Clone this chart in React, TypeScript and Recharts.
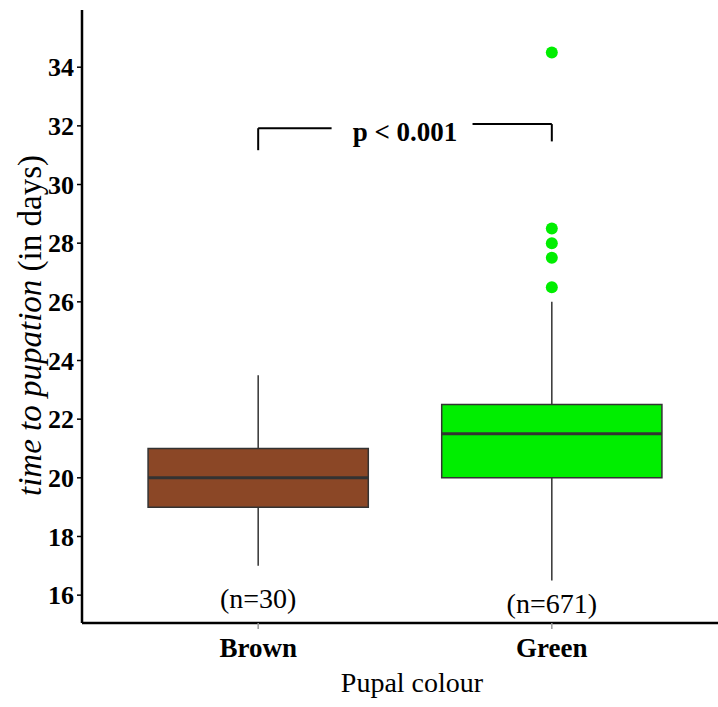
import React from 'react';
import {
  ComposedChart,
  XAxis,
  YAxis,
  Scatter,
  ReferenceArea,
  ReferenceLine,
  ReferenceDot,
} from 'recharts';

// ---- data ----
const categories = ['Brown', 'Green'];
const categoryPos = [1, 2];
const whiskerLow = [17, 16.5];
const q1 = [19, 20];
const median = [20, 21.5];
const q3 = [21, 22.5];
const whiskerHigh = [23.5, 26];
const boxColors = ['#8B4726', '#00EE00'];
const greenOutliers = [26.5, 27.5, 28, 28.5, 34.5];
const nLabels = ['(n=30)', '(n=671)'];
const nLabelY = [15.9, 15.73];
const yTicks = [16, 18, 20, 22, 24, 26, 28, 30, 32, 34];
const pLabel = 'p < 0.001';
const pLabelPos = { x: 1.5, y: 31.82 };
const bracketLeft = { xStart: 1, xEnd: 1.25, top: 31.92, bottom: 31.17 };
const bracketRight = { xStart: 1.73, xEnd: 2, top: 32.06, bottom: 31.47 };

const outlierData = greenOutliers.map((v) => ({ x: categoryPos[1], y: v }));

const FONT = '"Liberation Serif", "Times New Roman", serif';
const BOX_HALF = 0.375;
const OUTLINE = '#333333';

const YLabel = (props: any) => {
  const vb = props.viewBox || { x: 0, y: 10, width: 82, height: 613 };
  const cx = vb.x + 41;
  const cy = vb.y + vb.height / 2 + 9;
  return (
    <text
      x={cx}
      y={cy}
      transform={`rotate(-90, ${cx}, ${cy})`}
      textAnchor="middle"
      fontSize={33}
      fontFamily={FONT}
      fill="#000"
    >
      <tspan fontStyle="italic">time to pupation</tspan>
      <tspan> (in days)</tspan>
    </text>
  );
};

export default function App() {
  return (
    <div
      style={{
        position: 'absolute',
        left: 0,
        top: 0,
        width: 718,
        height: 707,
        overflow: 'hidden',
        background: '#fff',
      }}
    >
      <ComposedChart
        width={740}
        height={707}
        margin={{ top: 10, right: 12, bottom: 0, left: 0 }}
      >
        <XAxis
          type="number"
          dataKey="x"
          domain={[0.4, 2.6]}
          ticks={categoryPos}
          tickFormatter={(v: number) => categories[categoryPos.indexOf(v)] ?? ''}
          height={84}
          axisLine={{ stroke: '#000', strokeWidth: 2.5 }}
          tickLine={{ stroke: '#999', strokeWidth: 1.5 }}
          tickSize={6}
          tickMargin={9}
          tick={{ fill: '#000', fontSize: 27, fontWeight: 'bold', fontFamily: FONT }}
          allowDataOverflow
          label={{
            value: 'Pupal colour',
            position: 'insideBottom',
            offset: 15,
            dx: 7,
            fill: '#000',
            fontSize: 28,
            fontFamily: FONT,
          }}
        />
        <YAxis
          type="number"
          dataKey="y"
          domain={[15.05, 35.95]}
          ticks={yTicks}
          width={82}
          axisLine={{ stroke: '#000', strokeWidth: 2.5 }}
          tickLine={{ stroke: '#000', strokeWidth: 1.5 }}
          tickSize={5}
          tickMargin={3}
          tick={{ fill: '#000', fontSize: 26, fontWeight: 'bold', fontFamily: FONT }}
          allowDataOverflow
          label={{ content: YLabel }}
        />

        {categoryPos.map((c, i) => (
          <ReferenceLine
            key={`wl${i}`}
            segment={[
              { x: c, y: whiskerLow[i] },
              { x: c, y: q1[i] },
            ]}
            stroke={OUTLINE}
            strokeWidth={1.5}
          />
        ))}
        {categoryPos.map((c, i) => (
          <ReferenceLine
            key={`wh${i}`}
            segment={[
              { x: c, y: q3[i] },
              { x: c, y: whiskerHigh[i] },
            ]}
            stroke={OUTLINE}
            strokeWidth={1.5}
          />
        ))}
        {categoryPos.map((c, i) => (
          <ReferenceArea
            key={`box${i}`}
            x1={c - BOX_HALF}
            x2={c + BOX_HALF}
            y1={q1[i]}
            y2={q3[i]}
            fill={boxColors[i]}
            fillOpacity={1}
            stroke={OUTLINE}
            strokeWidth={1.5}
          />
        ))}
        {categoryPos.map((c, i) => (
          <ReferenceLine
            key={`med${i}`}
            segment={[
              { x: c - BOX_HALF, y: median[i] },
              { x: c + BOX_HALF, y: median[i] },
            ]}
            stroke={OUTLINE}
            strokeWidth={3}
          />
        ))}

        {/* significance bracket */}
        <ReferenceLine
          segment={[
            { x: bracketLeft.xStart, y: bracketLeft.bottom },
            { x: bracketLeft.xStart, y: bracketLeft.top },
          ]}
          stroke="#000"
          strokeWidth={2}
        />
        <ReferenceLine
          segment={[
            { x: bracketLeft.xStart, y: bracketLeft.top },
            { x: bracketLeft.xEnd, y: bracketLeft.top },
          ]}
          stroke="#000"
          strokeWidth={2}
        />
        <ReferenceLine
          segment={[
            { x: bracketRight.xStart, y: bracketRight.top },
            { x: bracketRight.xEnd, y: bracketRight.top },
          ]}
          stroke="#000"
          strokeWidth={2}
        />
        <ReferenceLine
          segment={[
            { x: bracketRight.xEnd, y: bracketRight.top },
            { x: bracketRight.xEnd, y: bracketRight.bottom },
          ]}
          stroke="#000"
          strokeWidth={2}
        />
        <ReferenceDot
          x={pLabelPos.x}
          y={pLabelPos.y}
          r={0}
          fill="none"
          stroke="none"
          label={{
            value: pLabel,
            position: 'center',
            fill: '#000',
            fontSize: 27,
            fontWeight: 'bold',
            fontFamily: FONT,
          }}
        />

        {categoryPos.map((c, i) => (
          <ReferenceDot
            key={`n${i}`}
            x={c}
            y={nLabelY[i]}
            r={0}
            fill="none"
            stroke="none"
            label={{
              value: nLabels[i],
              position: 'center',
              fill: '#000',
              fontSize: 28,
              fontFamily: FONT,
            }}
          />
        ))}

        <Scatter
          data={outlierData}
          dataKey="y"
          isAnimationActive={false}
          shape={(p: any) => <circle cx={p.cx} cy={p.cy} r={6} fill="#00EE00" />}
        />
      </ComposedChart>
    </div>
  );
}
